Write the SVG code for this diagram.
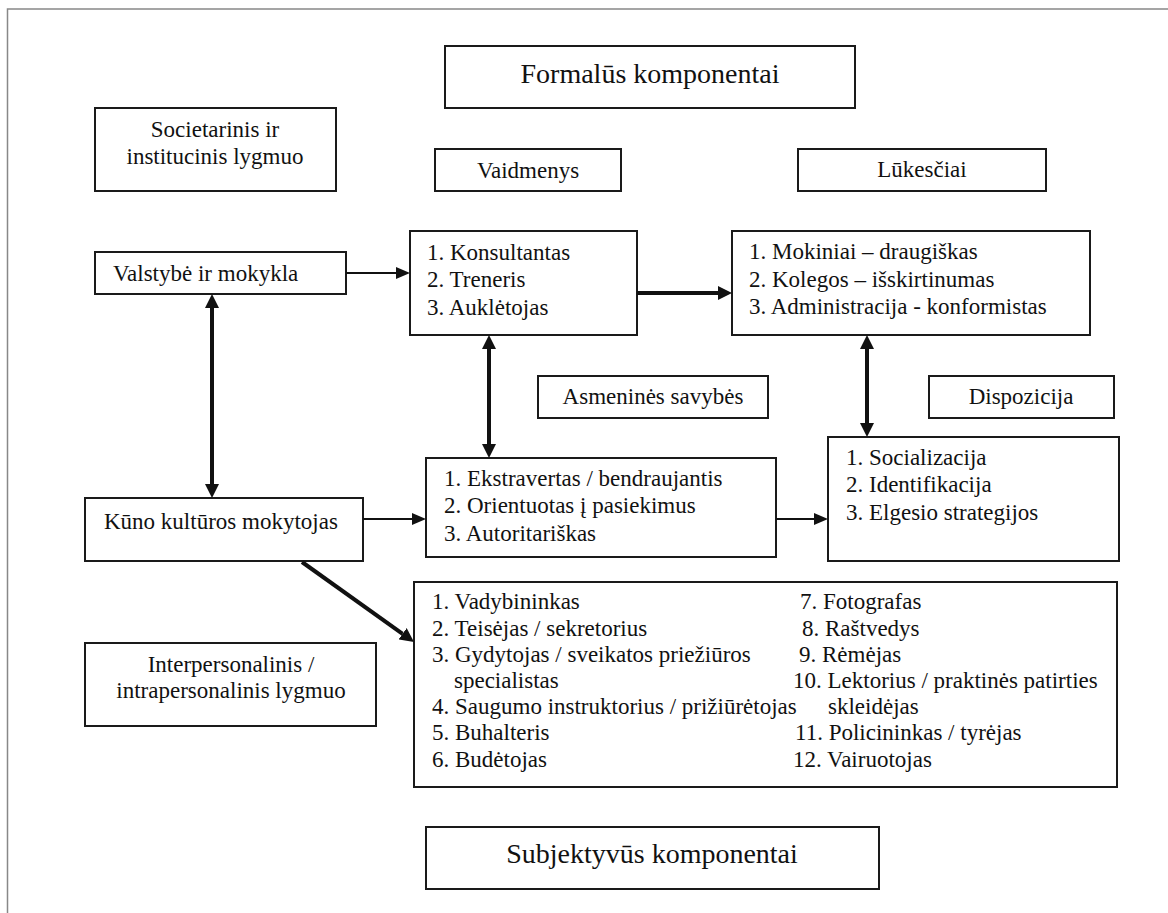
<svg xmlns="http://www.w3.org/2000/svg" width="1168" height="913" viewBox="0 0 1168 913">
<style>
.bx{fill:#fff;stroke:#1a1a1a;stroke-width:2}
.t{font-family:"Liberation Serif","Times New Roman",serif;font-size:23px;fill:#111}
.c{text-anchor:middle}
.h{font-size:28px}
.thin{stroke:#111;stroke-width:2;fill:none}
.thick{stroke:#111;stroke-width:4;fill:none}
</style>
<defs>
<marker id="ahs" viewBox="0 0 14 12" refX="0" refY="6" markerWidth="14" markerHeight="12" markerUnits="userSpaceOnUse" orient="auto-start-reverse"><path d="M0,0 L14,6 L0,12 z" fill="#111"/></marker>
<marker id="ahb" viewBox="0 0 14 14" refX="0" refY="7" markerWidth="14" markerHeight="14" markerUnits="userSpaceOnUse" orient="auto-start-reverse"><path d="M0,0 L14,7 L0,14 z" fill="#111"/></marker>
</defs>
<rect x="0" y="0" width="1168" height="913" fill="#fff"/>
<rect x="7.5" y="9" width="1200" height="950" fill="none" stroke="#888" stroke-width="1.5"/>

<g id="formalus"><rect class="bx" x="445" y="46" width="410" height="62"/><text class="t c h" x="650" y="83">Formalūs komponentai</text></g>
<g id="societarinis"><rect class="bx" x="95" y="108" width="241" height="83"/><text class="t c" x="215" y="137">Societarinis ir</text><text class="t c" x="215" y="164">institucinis lygmuo</text></g>
<g id="vaidmenys"><rect class="bx" x="435" y="149" width="186" height="42"/><text class="t c" x="528" y="178">Vaidmenys</text></g>
<g id="lukesciai"><rect class="bx" x="798" y="149" width="248" height="42"/><text class="t c" x="922" y="177">Lūkesčiai</text></g>
<g id="valstybe"><rect class="bx" x="95" y="252" width="251" height="42"/><text class="t" x="113" y="281">Valstybė ir mokykla</text></g>
<g id="konsultantas"><rect class="bx" x="410" y="231" width="227" height="104"/><text class="t" x="427" y="260">1. Konsultantas</text><text class="t" x="427" y="287">2. Treneris</text><text class="t" x="427" y="315">3. Auklėtojas</text></g>
<g id="mokiniai"><rect class="bx" x="732" y="231" width="358" height="104"/><text class="t" x="749" y="259">1. Mokiniai – draugiškas</text><text class="t" x="749" y="287">2. Kolegos – išskirtinumas</text><text class="t" x="749" y="314">3. Administracija - konformistas</text></g>
<g id="asmenines"><rect class="bx" x="538" y="376" width="230" height="42"/><text class="t c" x="653" y="404">Asmeninės savybės</text></g>
<g id="dispozicija"><rect class="bx" x="929" y="376" width="185" height="42"/><text class="t c" x="1021" y="404">Dispozicija</text></g>
<g id="kuno"><rect class="bx" x="85" y="498" width="278" height="63"/><text class="t" x="104" y="529">Kūno kultūros mokytojas</text></g>
<g id="ekstravertas"><rect class="bx" x="426" y="458" width="350" height="99"/><text class="t" x="444" y="486">1. Ekstravertas / bendraujantis</text><text class="t" x="444" y="513">2. Orientuotas į pasiekimus</text><text class="t" x="444" y="541">3. Autoritariškas</text></g>
<g id="socializacija"><rect class="bx" x="828" y="437" width="291" height="124"/><text class="t" x="846" y="465">1. Socializacija</text><text class="t" x="846" y="492">2. Identifikacija</text><text class="t" x="846" y="520">3. Elgesio strategijos</text></g>
<g id="vaidmenu-sarasas"><rect class="bx" x="414" y="582" width="703" height="205"/>
<text class="t" x="432" y="609">1. Vadybininkas</text>
<text class="t" x="432" y="635.5">2. Teisėjas / sekretorius</text>
<text class="t" x="432" y="662">3. Gydytojas / sveikatos priežiūros</text>
<text class="t" x="454" y="688">specialistas</text>
<text class="t" x="432" y="714">4. Saugumo instruktorius / prižiūrėtojas</text>
<text class="t" x="432" y="740">5. Buhalteris</text>
<text class="t" x="432" y="766.5">6. Budėtojas</text>
<text class="t" x="800" y="609">7. Fotografas</text>
<text class="t" x="802" y="635.5">8. Raštvedys</text>
<text class="t" x="799" y="662">9. Rėmėjas</text>
<text class="t" x="793" y="688">10. Lektorius / praktinės patirties</text>
<text class="t" x="828" y="714">skleidėjas</text>
<text class="t" x="795" y="740">11. Policininkas / tyrėjas</text>
<text class="t" x="793" y="766.5">12. Vairuotojas</text>
</g>
<g id="interpersonalinis"><rect class="bx" x="85" y="643" width="291" height="83"/><text class="t c" x="231" y="672">Interpersonalinis /</text><text class="t c" x="231" y="698">intrapersonalinis lygmuo</text></g>
<g id="subjektyvus"><rect class="bx" x="426" y="827" width="453" height="62"/><text class="t c h" x="652" y="863">Subjektyvūs komponentai</text></g>

<g id="connectors">
<line class="thin" x1="346" y1="273" x2="396" y2="273" marker-end="url(#ahs)"/>
<line class="thick" x1="637" y1="293" x2="718" y2="293" marker-end="url(#ahb)"/>
<line class="thick" x1="212" y1="308" x2="212" y2="484" marker-start="url(#ahb)" marker-end="url(#ahb)"/>
<line class="thick" x1="489" y1="349" x2="489" y2="444" marker-start="url(#ahb)" marker-end="url(#ahb)"/>
<line class="thick" x1="867" y1="349" x2="867" y2="423" marker-start="url(#ahb)" marker-end="url(#ahb)"/>
<line class="thin" x1="363" y1="519" x2="412" y2="519" marker-end="url(#ahs)"/>
<line class="thin" x1="776" y1="519" x2="814" y2="519" marker-end="url(#ahs)"/>
<line class="thick" x1="302" y1="562" x2="402.6" y2="633.8" marker-end="url(#ahb)"/>
</g>
</svg>
